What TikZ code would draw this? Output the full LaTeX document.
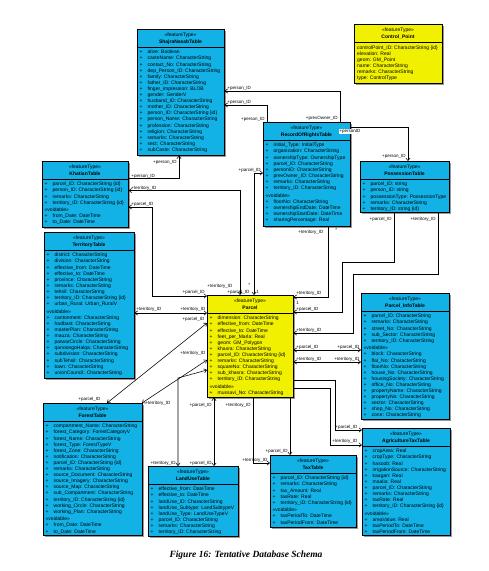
\documentclass[tikz,border=0pt]{standalone}
\usepackage{fontspec}
\setmainfont{Liberation Sans}
\newfontfamily\capfont{Liberation Serif}
\usetikzlibrary{arrows.meta,shadows}
\definecolor{cybox}{RGB}{18,178,230}
\definecolor{yebox}{RGB}{240,240,0}
\tikzset{
  cls/.style={draw=black, line width=0.6pt, inner sep=0pt,
    drop shadow={shadow xshift=1.6pt, shadow yshift=-1.6pt, fill=black!40, opacity=1}},
  hdr/.style={font=\fontsize{5}{6}\selectfont, inner sep=0pt, anchor=base},
  body/.style={font=\fontsize{5}{6.1}\selectfont, inner sep=0pt, anchor=base west},
  lbl/.style={font=\fontsize{4.5}{5}\selectfont, inner sep=0.2pt, anchor=base west},
  lblr/.style={font=\fontsize{4.5}{5}\selectfont, inner sep=0.2pt, anchor=base east},
  wlbl/.style={lbl, fill=white},
  conn/.style={draw=black, line width=0.55pt},
  tip/.style={-{Straight Barb[length=2.6pt,width=4.2pt]}},
  tips/.style={{Straight Barb[length=2.6pt,width=4.2pt]}-{Straight Barb[length=2.6pt,width=4.2pt]}},
}
% name, x1, y1, x2, y2, colour, title, rows
\newcommand\umlclass[8]{%
  \node[cls, fill=#6, anchor=north west, minimum width={(#4-#2)*1pt}, minimum height={(#5-#3)*1pt}] (#1) at (#2,#3) {};
  \node[hdr] (#1-st) at ({(#2+#4)/2},{#3+7.5}) {«featureType»};
  \node[hdr, font=\fontsize{5}{6}\selectfont\bfseries] (#1-nm) at ({(#2+#4)/2},{#3+14}) {#7};
  \draw[line width=0.6pt] (#2,{#3+18.5}) -- (#4,{#3+18.5});
  \node[body] (#1-at) at ({#2+2.5},{#3+24.8}) {\begin{tabular}[t]{@{}p{8pt}@{}l@{}}#8\end{tabular}};
}
\newcommand\vdb{\multicolumn{2}{@{}l@{}}{«voidable»}}
\begin{document}
\begin{tikzpicture}[x=1pt,y=-1pt]
\useasboundingbox (0,0) rectangle (489,571);
\fill[white] (0,0) rectangle (489,571);

% ---------------- classes ----------------
\umlclass{shajra}{137}{29}{224}{155}{cybox}{ShajraNasabTable}{%
+ & alive: Boolean\\ + & casteName: CharacterString\\ + & contact\_No: CharacterString\\
+ & dep\_Person\_ID: CharacterString\\ + & family: CharacterString\\ + & father\_ID: CharacterString\\
+ & finger\_impression: BLOB\\ + & gender: GenderV\\ + & husband\_ID: CharacterString\\
+ & mother\_ID: CharacterString\\ + & person\_ID: CharacterString \{id\}\\ + & person\_Name: CharacterString\\
+ & profession: CharacterString\\ + & religion: CharacterString\\ + & remarks: CharacterString\\
+ & sect: CharacterString\\ + & subCaste: CharacterString}

\node[cls, fill=yebox, anchor=north west, minimum width=88pt, minimum height=59pt] (ctrl) at (354,24) {};
\node[hdr] (ctrl-st) at (398,31.5) {«featureType»};
\node[hdr, font=\fontsize{5}{6}\selectfont\bfseries] (ctrl-nm) at (398,38) {Control\_Point};
\draw[line width=0.6pt] (354,42.5) -- (442,42.5);
\node[body] (ctrl-at) at (357,49.3) {\begin{tabular}[t]{@{}l@{}}controlPoint\_ID: CharacterString \{id\}\\ elevation: Real\\ geom: GM\_Point\\ name: CharacterString\\ remarks: CharacterString\\ type: ControlType\end{tabular}};

\umlclass{ror}{263}{122}{350}{226}{cybox}{RecordOfRightsTable}{%
+ & initial\_Type: InitialType\\ + & organization: CharacterString\\ + & ownershipType: OwnershipType\\
+ & parcel\_ID: CharacterString\\ + & personID: CharacterString\\ + & prevOwner\_ID: CharacterString\\
+ & remarks: CharacterString\\ + & territory\_ID: CharacterString\\[1.5pt]
\vdb\\ + & floorNo: CharacterString\\ + & ownershipEndDate: DateTime\\ + & ownershipStartDate: DateTime\\
+ & sharingPercentage: Real}

\umlclass{poss}{360}{161}{449}{212}{cybox}{PossessionTable}{%
+ & parcel\_ID: string\\ + & person\_ID: string\\ + & possessionType: PossessionType\\
+ & remarks: CharacterString\\ + & territory\_ID: string \{id\}}

\umlclass{khatian}{42}{161}{128}{227}{cybox}{KhatianTable}{%
+ & parcel\_ID: CharacterString \{id\}\\ + & person\_ID: CharacterString \{id\}\\ + & remarks: CharacterString\\
+ & territory\_ID: CharacterString \{id\}\\[1.5pt] \vdb\\ + & from\_Date: DateTime\\ + & to\_Date: DateTime}

\umlclass{territory}{44}{232}{134}{378}{cybox}{TerritoryTable}{%
+ & district: CharacterString\\ + & division: CharacterString\\ + & effective\_from: DateTime\\
+ & effective\_to: DateTime\\ + & province: CharacterString\\ + & remarks: CharacterString\\
+ & tehsil: CharacterString\\ + & territory\_ID: CharacterString \{id\}\\ + & urban\_Rural: Urban\_RuralV\\[1.5pt]
\vdb\\ + & cantonment: CharacterString\\ + & hadbast: CharacterString\\ + & masterPlan: CharacterString\\
+ & mauza: CharacterString\\ + & patwarCircle: CharacterString\\ + & qanoongoHalqa: CharacterString\\
+ & subdivision: CharacterString\\ + & subTehsil: CharacterString\\ + & town: CharacterString\\
+ & unionCouncil: CharacterString}

\umlclass{parcel}{207}{295}{293}{397}{yebox}{Parcel}{%
+ & dimension: CharacterString\\ + & effective\_from: DateTime\\ + & effective\_to: DateTime\\
+ & feet\_per\_Marla: Real\\ + & geom: GM\_Polygon\\ + & khasra: CharacterString\\
+ & parcel\_ID: CharacterString \{id\}\\ + & remarks: CharacterString\\ + & squareNo: CharacterString\\
+ & sub\_khasra: CharacterString\\ + & territory\_ID: CharacterString\\[1.5pt] \vdb\\
+ & mussavi\_No: CharacterString}

\umlclass{pinfo}{361}{293}{449}{419}{cybox}{Parcel\_InfoTable}{%
+ & parcel\_ID: CharacterString\\ + & remarks: CharacterString\\ + & street\_No: CharacterString\\
+ & sub\_Sector: CharacterString\\ + & territory\_ID: CharacterString\\[1.5pt] \vdb\\
+ & block: CharacterString\\ + & flat\_No: CharacterString\\ + & floorNo: CharacterString\\
+ & house\_No: CharacterString\\ + & housingSociety: CharacterString\\ + & office\_No: CharacterString\\
+ & propertyName: CharacterString\\ + & propertyNo: CharacterString\\ + & sector: CharacterString\\
+ & shop\_No: CharacterString\\ + & zone: CharacterString}

\umlclass{forest}{43}{403}{142}{535}{cybox}{ForestTable}{%
+ & compartment\_Name: CharacterString\\ + & forest\_Category: ForestCategoryV\\ + & forest\_Name: CharacterString\\
+ & forest\_Type: ForestTypeV\\ + & forest\_Zone: CharacterString\\ + & notification: CharacterString\\
+ & parcel\_ID: CharacterString \{id\}\\ + & remarks: CharacterString\\ + & source\_Document: CharacterString\\
+ & source\_Imagery: CharacterString\\ + & source\_Map: CharacterString\\ + & sub\_Compartment: CharacterString\\
+ & territory\_ID: CharacterString \{id\}\\ + & working\_Circle: CharacterString\\ + & working\_Plan: CharacterString\\[1.5pt]
\vdb\\ + & from\_Date: DateTime\\ + & to\_Date: DateTime}

\umlclass{landuse}{148}{466}{238}{536}{cybox}{LandUseTable}{%
+ & effective\_from: DateTime\\ + & effective\_to: DateTime\\ + & landUse\_ID: CharacterString\\
+ & landUse\_Subtype: LandSubtypeV\\ + & landUse\_Type: LandUseTypeV\\ + & parcel\_ID: CharacterString\\
+ & remarks: CharacterString\\ + & territory\_ID: CharacterString}

\umlclass{tax}{270}{455}{356}{527}{cybox}{TaxTable}{%
+ & parcel\_ID: CharacterString \{id\}\\ + & remarks: CharacterString\\ + & tax\_Amount: Real\\
+ & taxRate: Real\\ + & territory\_ID: CharacterString \{id\}\\[1.5pt] \vdb\\
+ & taxPeriodTo: DateTime\\ + & taxPeriodFrom: DateTime}

\umlclass{agri}{362}{428}{450}{535}{cybox}{AgricultureTaxTable}{%
+ & cropArea: Real\\ + & cropType: CharacterString\\ + & hasoob: Real\\
+ & irrigationSource: CharacterString\\ + & kaagan: Real\\ + & maalia: Real\\
+ & parcel\_ID: CharacterString\\ + & remarks: CharacterString\\ + & taxRate: Real\\
+ & territory\_ID: CharacterString \{id\}\\[1.5pt] \vdb\\ + & areaValue: Real\\
+ & taxPeriodTo: DateTime\\ + & taxPeriodFrom: DateTime}

% ---------------- connectors ----------------
\draw[conn,tip] (340,122) coordinate (c1a) |- (shajra.east |- 0,91);
\draw[conn,tip] (267,122) coordinate (c2a) |- (shajra.east |- 0,105);
\draw[conn,tip] (ror.east |- 0,127) -| (poss.north -| 408,0);
\draw[conn,tip] (khatian.east |- 0,178.5) -| (shajra.south -| 179,0);
\draw[conn,tips] (khatian.east |- 0,190.5) -| (parcel.north -| 240,0);
\draw[conn,tips] (khatian.east |- 0,207) -| (152,296) -- (parcel.west |- 0,296);
\draw[conn,tips] (ror.west |- 0,173) -| (parcel.north -| 254,0);
\draw[conn,tips] (parcel.west |- 0,313) -- (territory.east |- 0,313);
\draw[conn,tips] (parcel.west |- 0,323) -- (forest.north -| 107,0);
\draw[conn,tips] (parcel.west |- 0,360) -- (142,403);
\draw[conn,tips] (landuse.north -| 178,0) -- (178,378) -- (parcel.west |- 0,370);
\draw[conn,tips] (parcel.south -| 214,0) -- (landuse.north -| 214,0);
\draw[conn,tip] (parcel.south -| 253,0) |- (tax.west |- 0,463);
\draw[conn,tip] (parcel.south -| 290,0) -- (tax.north -| 290,0);
\draw[conn,tip] (parcel.east |- 0,380) -| (335,430) -- (agri.west |- 0,430);
\draw[conn,tip] (parcel.east |- 0,388) -| (330,445) -- (agri.west |- 0,445);
\draw[conn,tip] (poss.south -| 394,0) |- (342,262) |- (parcel.east |- 0,312);
\draw[conn,tip] (poss.south -| 438,0) |- (353,274) |- (parcel.east |- 0,333);
\draw[conn,tip] (ror.south -| 328,0) |- (parcel.east |- 0,297);
\draw[conn,tips] (pinfo.west |- 0,350) -- (parcel.east |- 0,350);
\draw[conn,tips] (pinfo.west |- 0,362) -- (parcel.east |- 0,362);

% ---------------- connector labels ----------------
\node[lbl] (l1) at (227,89.5) {+person\_ID};
\node[lbl] (l2) at (227,103.5) {+person\_ID};
\node[lblr] (l3) at (265,120.5) {+person\_ID};
\node[lblr] (l4) at (338,119) {+prevOwner\_ID};
\node[wlbl] (l5) at (339,132.5) {+personID};
\node[lblr] (l6) at (406,157) {+person\_ID};
\node[lbl] (l7) at (131,177) {+person\_ID};
\node[lblr] (l0) at (177,163) {+person\_ID};
\node[lbl] (l8) at (131,189) {+territory\_ID};
\node[lbl] (l9) at (131,205.5) {+parcel\_ID};
\node[lblr] (l10) at (261,171) {+parcel\_ID};
\node[lbl] (l11) at (298,233) {+territory\_ID};
\node[lbl] (l12) at (335,231) {*};
\node[lblr] (l13) at (205,293) {+parcel\_ID};
\node[lbl] (l15) at (207,287) {+territory\_ID};
\node[lbl] (l14) at (227,293) {+parcel\_ID};
\node[lbl] (l16) at (248,286.5) {*};
\node[lbl] (l17) at (256,293) {1};
\node[lbl] (l18) at (136,310.5) {+territory\_ID};
\node[lbl] (l19) at (180,310.5) {+territory\_ID};
\node[lbl] (l20) at (182,320) {+parcel\_ID};
\node[lbl] (l21) at (180,354) {+territory\_ID};
\node[lbl] (l22) at (78,400) {+parcel\_ID};
\node[lbl] (l23) at (145,404) {+territory\_ID};
\node[lbl] (l24) at (296,294) {+territory\_ID};
\node[lbl] (l25) at (296,304) {1};
\node[lbl] (l26) at (296,310.5) {+parcel\_ID};
\node[lbl] (l27) at (296,331) {+territory\_ID};
\node[lbl] (l28) at (296,348) {+parcel\_ID};
\node[lbl] (l29) at (337,348) {+parcel\_ID};
\node[lbl] (l30) at (296,360.5) {+territory\_ID};
\node[lbl] (l31) at (334,360.5) {+territory\_ID};
\node[lblr] (l32) at (392,220.5) {+parcel\_ID};
\node[lblr] (l33) at (436,220.5) {+territory\_ID};
\node[lblr] (l34) at (212,406.5) {+parcel\_ID};
\node[lblr] (l35) at (251,406.5) {+territory\_ID};
\node[lblr] (l36) at (176,464) {+territory\_ID};
\node[lblr] (l37) at (212,464) {+parcel\_ID};
\node[lbl] (l38) at (242,461) {+territory\_ID};
\node[lblr] (l39) at (288,452.5) {+parcel\_ID};
\node[lbl] (l40) at (335,428.5) {+parcel\_ID};
\node[lbl] (l41) at (332,442.5) {+territory\_ID};

% ---------------- caption ----------------
\node[font=\capfont\fontsize{9.5}{11}\selectfont\bfseries\itshape, inner sep=0pt] (cap) at (246,555) {Figure 16: Tentative Database Schema};
\end{tikzpicture}
\end{document}
